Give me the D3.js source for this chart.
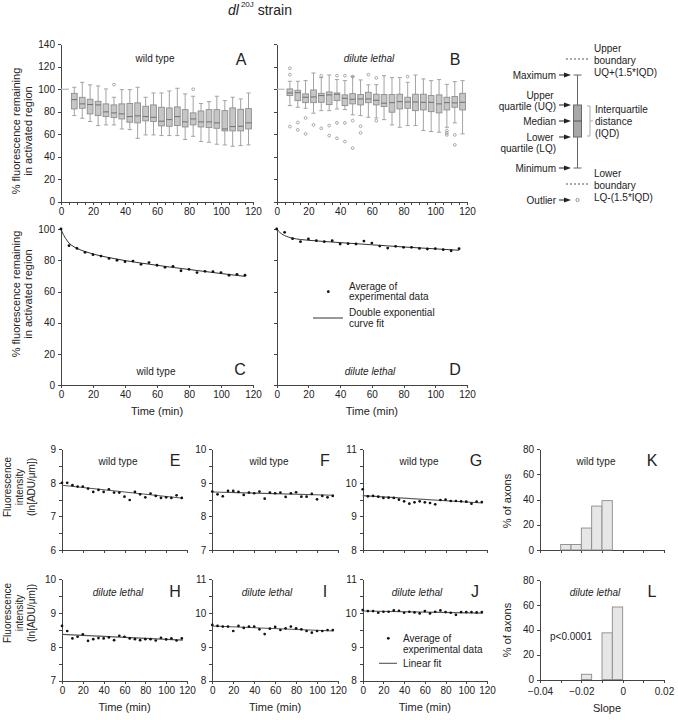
<!DOCTYPE html>
<html><head><meta charset="utf-8">
<script src="https://cdn.jsdelivr.net/npm/d3@7"></script>
<style>
body{margin:0;background:#fff;}
svg{font-family:"Liberation Sans",Arial,Helvetica,sans-serif;}
.axis path,.axis line{stroke:#444;stroke-width:1;shape-rendering:crispEdges;}
.axis text{font-size:10px;fill:#222;font-family:"Liberation Sans",Arial,sans-serif;}
</style></head><body>
<script>
// ---------------- DATA ----------------
const boxTimes = [8.3,13.3,18.2,23.2,28.1,33.1,38.0,43.0,47.9,52.9,57.8,62.8,67.7,72.7,77.6,82.6,87.5,92.5,97.4,102.4,107.3,112.3,117.2];
// Panel A (wild type) box statistics
const aMax = [101.8,106.2,103.9,103.0,100.3,92.9,99.7,99.7,101.8,92.9,96.7,96.7,98.5,100.9,95.9,93.8,87.3,89.0,93.8,89.9,92.9,91.4,96.7];
const aUQ  = [96.4,92.8,91.1,89.3,87.0,86.1,87.0,87.3,87.9,84.9,86.1,84.0,83.4,84.3,81.9,79.0,80.7,81.9,81.9,81.0,83.4,82.2,82.8];
const aMed = [90.8,87.0,86.4,86.1,79.9,79.0,78.1,75.7,76.3,75.7,75.1,71.6,73.0,75.7,71.0,73.6,71.0,71.0,70.1,64.7,66.8,67.1,70.1];
const aLQ  = [82.5,83.1,78.1,76.6,75.7,74.8,73.6,70.7,70.1,71.9,71.3,67.4,67.1,67.7,66.5,68.3,66.5,65.9,65.3,63.0,63.0,63.0,64.7];
const aMin = [76.6,74.2,71.3,67.7,68.3,68.3,64.7,64.1,56.4,59.4,59.4,58.8,58.8,58.8,55.3,58.2,53.5,52.9,51.1,50.5,49.3,49.9,50.5];
const aOutIdx = [5,15];
const aOutVal = [104.2,100.0];
// Panel B (dilute lethal) box statistics
const bMax = [107.1,107.1,107.7,114.5,110.4,112.7,108.6,107.7,111.6,108.3,103.9,104.1,112.1,110.4,110.4,106.2,112.7,109.2,107.7,108.6,104.4,106.8,107.7];
const bUQ  = [100.3,99.1,95.9,99.4,96.4,97.6,96.7,95.0,96.1,95.3,97.3,95.6,95.3,95.3,95.6,92.9,95.6,95.6,94.4,95.0,92.9,93.5,96.4];
const bMed = [96.7,97.0,92.9,93.2,94.4,95.0,95.6,92.0,91.1,91.4,91.4,90.2,87.6,88.1,89.0,88.7,88.7,88.4,88.4,87.0,88.1,87.9,88.4];
const bLQ  = [94.4,89.9,88.1,88.1,88.4,86.4,89.9,85.5,87.0,86.1,88.1,86.1,84.6,79.6,82.5,83.1,81.0,81.6,80.1,79.0,81.6,84.0,81.6];
const bMin = [85.5,84.0,83.1,78.7,81.0,81.0,82.5,81.9,77.2,76.6,75.1,74.5,73.0,68.3,66.2,67.7,67.7,63.3,62.4,61.8,66.2,70.1,60.3];
const bOutIdx = [0,0,0,1,1,2,2,3,4,4,5,5,6,6,6,7,7,7,8,8,8,9,9,10,11,11,15,20,20,20,21,21];
const bOutVal = [118.7,113.0,66.8,70.4,63.9,74.5,60.3,68.3,112.1,65.3,67.7,58.8,112.1,70.1,56.4,112.1,70.1,53.5,111.3,72.1,47.6,67.1,61.2,113.0,110.1,72.0,111.3,63.3,61.2,59.4,59.4,50.5];
const refLineT = [0,5];

// Panels C,D: averages and double exponential fits
const times = [0,5,10,15,20,25,30,35,40,45,50,55,60,65,70,75,80,85,90,95,100,105,110,115];
const cVals = [100,89.3,87.6,85.1,83.6,82.7,81.2,80.0,79.1,79.5,77.4,78.5,76.8,75.5,76.1,73.3,74.2,72.1,72.9,72.7,72.1,70.4,71.0,70.4];
const dVals = [100,97.9,93.8,91.9,93.6,92.5,91.9,92.5,90.4,90.6,90.4,92.3,91.0,89.1,87.8,88.9,88.3,88.3,87.6,87.2,87.4,86.8,86.1,87.4];
const fitT  = [0,1,2,3,5,7.5,10,15,20,30,40,50,60,70,80,90,100,110,115];
const cFit  = [100,97.5,95.5,93.8,91.0,89.0,87.6,85.6,84.0,81.7,79.8,78.2,76.8,75.4,74.1,72.8,71.5,70.3,69.7];
const dFit  = [100,98.8,97.8,97.0,95.8,94.8,94.1,93.3,92.8,92.0,91.3,90.6,89.9,89.2,88.5,87.9,87.3,86.7,86.4];

// Panels E-J: fluorescence intensity, ln[ADU/um]
const eVals = [8.00,8.00,7.93,7.89,7.89,7.83,7.73,7.79,7.73,7.81,7.71,7.71,7.59,7.49,7.73,7.66,7.57,7.68,7.61,7.55,7.57,7.55,7.63,7.55];
const fVals = [8.74,8.66,8.60,8.76,8.76,8.73,8.64,8.71,8.69,8.74,8.53,8.71,8.69,8.71,8.58,8.69,8.72,8.59,8.59,8.67,8.51,8.61,8.57,8.61];
const gVals = [9.81,9.60,9.61,9.59,9.55,9.56,9.55,9.50,9.45,9.38,9.42,9.45,9.42,9.40,9.36,9.49,9.50,9.46,9.46,9.45,9.44,9.38,9.44,9.43];
const hVals = [8.62,8.47,8.25,8.30,8.37,8.18,8.23,8.26,8.25,8.28,8.20,8.33,8.30,8.25,8.23,8.20,8.23,8.23,8.19,8.27,8.22,8.25,8.19,8.25];
const iVals = [9.65,9.62,9.60,9.60,9.47,9.62,9.56,9.60,9.60,9.52,9.38,9.54,9.59,9.50,9.55,9.60,9.55,9.52,9.47,9.42,9.47,9.47,9.50,9.50];
const jVals = [10.09,10.06,10.06,10.01,10.04,10.04,10.08,10.07,10.01,10.04,10.02,9.99,10.06,9.99,10.04,10.08,10.03,10.01,9.95,10.03,10.03,10.03,10.02,10.03];
const linT = [0,116];
const eFit = [7.93,7.54];
const fFit = [8.73,8.63];
const gFit = [9.62,9.40];
const hFit = [8.37,8.20];
const iFit = [9.62,9.47];
const jFit = [10.06,10.00];

// Panels K,L: slope histograms (% of axons)
const binStart = [-0.03,-0.025,-0.02,-0.015,-0.01,-0.005];
const binWidth = 0.005;
const kPct = [4.35,4.35,17.4,34.8,39.1,0];
const lPct = [0,0,4.2,0,37.5,58.3];

// tick values
const timeTicks = [0,20,40,60,80,100,120];
const timeTicksMinor = d3.range(0,121,5);
const slopeTicks = [-0.04,-0.03,-0.02,-0.01,0,0.01,0.02];

// ---------------- DRAW ----------------
const svg = d3.select("body").append("svg").attr("width",678).attr("height",720);

function styleAxis(g){ g.attr("class","axis"); }
function txt(x,y,s,o={}){
  const t = svg.append("text").attr("x",x).attr("y",y).text(s)
    .attr("font-size",o.size||10).attr("fill",o.fill||"#222")
    .attr("text-anchor",o.anchor||"start");
  if(o.italic) t.attr("font-style","italic");
  return t;
}
function vtxt(x,y,s,size){
  return svg.append("text").attr("transform",`translate(${x},${y}) rotate(-90)`)
    .attr("text-anchor","middle").attr("font-size",size||11).attr("fill","#222").text(s);
}

function drawAxes(x,y,o){
  const xa = d3.axisBottom(x).tickSize(3).tickSizeOuter(0).tickPadding(o.xPad||3)
    .tickValues(o.xTicks).tickFormat(o.xFmt);
  svg.append("g").call(styleAxis).attr("transform",`translate(0,${y.range()[0]})`).call(xa);
  const ya = d3.axisLeft(y).tickSize(3).tickSizeOuter(0).tickPadding(3)
    .tickValues(o.yTicks).tickFormat(o.yFmt);
  svg.append("g").call(styleAxis).attr("transform",`translate(${x.range()[0]},0)`).call(ya);
}

// ---- Title
const title = svg.append("text").attr("x",228).attr("y",15).attr("font-size",14).attr("fill","#222");
title.append("tspan").attr("font-style","italic").text("dl");
title.append("tspan").attr("dy",-8).attr("dx",2).attr("font-size",8).text("20J");
title.append("tspan").attr("dy",8).text(" strain");

// ---- Box plot panels A, B
function boxPanel(x0,x1,mx,uq,md,lq,mn,oIdx,oVal,showY){
  const x = d3.scaleLinear().domain([0,120]).range([x0,x1]);
  const y = d3.scaleLinear().domain([0,140]).range([201.7,44.3]);
  drawAxes(x,y,{xTicks:timeTicksMinor, xFmt:d=>d%20===0?d:"",
    yTicks:d3.range(0,141,20), yFmt:d=>showY?d:""});
  svg.append("line").attr("x1",x(refLineT[0])).attr("x2",x(refLineT[1]))
    .attr("y1",y(100)).attr("y2",y(100)).attr("stroke","#bbb").attr("stroke-width",1.2);
  const hw = 1.8, cw = 1.3;
  const g = svg.append("g");
  boxTimes.forEach((t,i)=>{
    g.append("line").attr("x1",x(t)).attr("x2",x(t)).attr("y1",y(mx[i])).attr("y2",y(mn[i]))
      .attr("stroke","#a3a3a3").attr("stroke-width",1);
    [mx[i],mn[i]].forEach(v=>g.append("line").attr("x1",x(t-cw)).attr("x2",x(t+cw))
      .attr("y1",y(v)).attr("y2",y(v)).attr("stroke","#a3a3a3"));
    g.append("rect").attr("x",x(t-hw)).attr("width",x(t+hw)-x(t-hw))
      .attr("y",y(uq[i])).attr("height",y(lq[i])-y(uq[i]))
      .attr("fill","#c6c6c6").attr("stroke","#8e8e8e").attr("stroke-width",0.9);
    g.append("line").attr("x1",x(t-hw)).attr("x2",x(t+hw)).attr("y1",y(md[i])).attr("y2",y(md[i]))
      .attr("stroke","#6f6f6f").attr("stroke-width",1);
  });
  oIdx.forEach((k,j)=>{
    g.append("circle").attr("cx",x(boxTimes[k])).attr("cy",y(oVal[j])).attr("r",1.4)
      .attr("fill","none").attr("stroke","#8a8a8a").attr("stroke-width",0.7);
  });
}
boxPanel(61,253,aMax,aUQ,aMed,aLQ,aMin,aOutIdx,aOutVal,true);
boxPanel(276.7,467,bMax,bUQ,bMed,bLQ,bMin,bOutIdx,bOutVal,false);
txt(155,62,"wild type",{anchor:"middle"});
txt(241,65,"A",{size:16,anchor:"middle"});
txt(369,62,"dilute lethal",{anchor:"middle",italic:true});
txt(455,65,"B",{size:16,anchor:"middle"});
vtxt(20,131,"% fluorescence remaining");
vtxt(32,131,"in activated region");

// ---- Box legend schematic
(function(){
  const g = svg.append("g");
  const cx = 577.5;
  g.append("line").attr("x1",cx).attr("x2",cx).attr("y1",75).attr("y2",168).attr("stroke","#666");
  [75,168].forEach(v=>g.append("line").attr("x1",cx-4).attr("x2",cx+4).attr("y1",v).attr("y2",v).attr("stroke","#666"));
  g.append("rect").attr("x",cx-4).attr("y",105).attr("width",8).attr("height",32)
    .attr("fill","#a8a8a8").attr("stroke","#6a6a6a");
  g.append("line").attr("x1",cx-4).attr("x2",cx+4).attr("y1",121).attr("y2",121).attr("stroke","#555");
  g.append("circle").attr("cx",cx).attr("cy",200).attr("r",1.6).attr("fill","none").attr("stroke","#777").attr("stroke-width",0.8);
  const arrow = yy => {
    g.append("line").attr("x1",559).attr("x2",566).attr("y1",yy).attr("y2",yy).attr("stroke","#222");
    g.append("path").attr("d",`M571,${yy} L564,${yy-2.6} L564,${yy+2.6} Z`).attr("fill","#222");
  };
  [75,105,121,137,168,200].forEach(arrow);
  txt(556,78.5,"Maximum",{anchor:"end"});
  txt(540,98.5,"Upper",{anchor:"middle"});
  txt(556,109.5,"quartile (UQ)",{anchor:"end"});
  txt(556,124.5,"Median",{anchor:"end"});
  txt(540,140.5,"Lower",{anchor:"middle"});
  txt(556,151.5,"quartile (LQ)",{anchor:"end"});
  txt(556,171.5,"Minimum",{anchor:"end"});
  txt(556,203.5,"Outlier",{anchor:"end"});
  [59,184].forEach(v=>g.append("line").attr("x1",566).attr("x2",590).attr("y1",v).attr("y2",v)
    .attr("stroke","#555").attr("stroke-dasharray","2,2"));
  g.append("path").attr("d","M587,106 L590,106 L590,136 L587,136").attr("fill","none").attr("stroke","#aaa");
  g.append("line").attr("x1",590).attr("x2",593).attr("y1",121).attr("y2",121).attr("stroke","#aaa");
  txt(594,51.5,"Upper"); txt(594,63.5,"boundary"); txt(594,75.5,"UQ+(1.5*IQD)");
  txt(595,112.5,"Interquartile"); txt(595,124.5,"distance"); txt(595,136.5,"(IQD)");
  txt(594,176.5,"Lower"); txt(594,188.5,"boundary"); txt(594,200.5,"LQ-(1.5*IQD)");
})();

// ---- Panels C, D
function expPanel(x0,x1,vals,fit,showY){
  const x = d3.scaleLinear().domain([0,120]).range([x0,x1]);
  const y = d3.scaleLinear().domain([0,100]).range([385.3,229]);
  drawAxes(x,y,{xTicks:timeTicks, xFmt:d=>d, yTicks:d3.range(0,101,20), yFmt:d=>showY?d:""});
  svg.append("path").datum(fitT.map((t,i)=>[t,fit[i]]))
    .attr("d",d3.line().x(d=>x(d[0])).y(d=>y(d[1])).curve(d3.curveMonotoneX))
    .attr("fill","none").attr("stroke","#333").attr("stroke-width",1);
  svg.append("g").selectAll("circle").data(times).join("circle")
    .attr("cx",d=>x(d)).attr("cy",(d,i)=>y(vals[i])).attr("r",1.4).attr("fill","#111");
  txt(x(60),415,"Time (min)",{size:11,anchor:"middle"});
}
expPanel(61,253,cVals,cFit,true);
expPanel(276.7,467,dVals,dFit,false);
vtxt(20,294,"% fluorescence remaining");
vtxt(32,294,"in activated region");
txt(156,375,"wild type",{anchor:"middle"});
txt(240,375,"C",{size:16,anchor:"middle"});
txt(370,375,"dilute lethal",{anchor:"middle",italic:true});
txt(455,375,"D",{size:16,anchor:"middle"});
svg.append("circle").attr("cx",328.3).attr("cy",291.7).attr("r",1.4).attr("fill","#111");
txt(349,289.5,"Average of"); txt(349,300,"experimental data");
svg.append("line").attr("x1",313).attr("x2",343).attr("y1",318).attr("y2",318).attr("stroke","#333");
txt(349,316,"Double exponential"); txt(349,327,"curve fit");

// ---- Panels E-J
function linPanel(x0,x1,yTop,yBot,ymin,vals,fit,showX){
  const x = d3.scaleLinear().domain([0,120]).range([x0,x1]);
  const y = d3.scaleLinear().domain([ymin,ymin+3]).range([yBot,yTop]);
  drawAxes(x,y,{xTicks:timeTicks, xFmt:d=>showX?d:"", yTicks:d3.range(ymin,ymin+3.01,0.5), yFmt:d=>Number.isInteger(d)?d:""});
  svg.append("line").attr("x1",x(linT[0])).attr("x2",x(linT[1])).attr("y1",y(fit[0])).attr("y2",y(fit[1]))
    .attr("stroke","#555").attr("stroke-width",1.1);
  svg.append("g").selectAll("circle").data(times).join("circle")
    .attr("cx",d=>x(d)).attr("cy",(d,i)=>y(vals[i])).attr("r",1.35).attr("fill","#111");
  if(showX) txt(x(60),711,"Time (min)",{size:11,anchor:"middle"});
}
linPanel(62,187,449.3,550,6,eVals,eFit,false);
linPanel(212.3,338,449.3,550,7,fVals,fFit,false);
linPanel(362.7,487,449.3,550,8,gVals,gFit,false);
linPanel(62,187,579.3,680.7,7,hVals,hFit,true);
linPanel(212.3,338,579.3,680.7,8,iVals,iFit,true);
linPanel(362.7,487,579.3,680.7,8,jVals,jFit,true);
[[487,"E"],[613,"H"]].forEach(([cy])=>{
  vtxt(11,cy,"Fluorescence",10);
  vtxt(23,cy,"intensity",10);
  vtxt(35,cy,"(ln[ADU/\u03BCm])",10);
});
txt(118,465,"wild type",{anchor:"middle"}); txt(175,466,"E",{size:16,anchor:"middle"});
txt(269,465,"wild type",{anchor:"middle"}); txt(325,466,"F",{size:16,anchor:"middle"});
txt(419,465,"wild type",{anchor:"middle"}); txt(476,466,"G",{size:16,anchor:"middle"});
txt(118,596,"dilute lethal",{anchor:"middle",italic:true}); txt(175,597,"H",{size:16,anchor:"middle"});
txt(267,596,"dilute lethal",{anchor:"middle",italic:true}); txt(325,597,"I",{size:16,anchor:"middle"});
txt(417,596,"dilute lethal",{anchor:"middle",italic:true}); txt(475,597,"J",{size:16,anchor:"middle"});
svg.append("circle").attr("cx",388.3).attr("cy",638.3).attr("r",1.4).attr("fill","#111");
txt(403,641.5,"Average of"); txt(403,653,"experimental data");
svg.append("line").attr("x1",379).attr("x2",397).attr("y1",663.3).attr("y2",663.3).attr("stroke","#555").attr("stroke-width",1.1);
txt(403,666.5,"Linear fit");

// ---- Panels K, L
function histPanel(yTop,yBot,pct,showX){
  const x = d3.scaleLinear().domain([-0.04,0.02]).range([540,664]);
  const y = d3.scaleLinear().domain([0,80]).range([yBot,yTop]);
  drawAxes(x,y,{xPad:5, xTicks:slopeTicks, xFmt:d=>showX && Math.abs(Math.round(d*100))%2===0 ? (d===0?"0":d3.format(".2f")(d)) : "",
    yTicks:d3.range(0,81,20), yFmt:d=>d});
  svg.append("g").selectAll("rect").data(binStart.filter((b,i)=>pct[i]>0)).join("rect")
    .attr("x",d=>x(d)).attr("width",d=>x(d+binWidth)-x(d))
    .attr("y",d=>y(pct[binStart.indexOf(d)])).attr("height",d=>y(0)-y(pct[binStart.indexOf(d)]))
    .attr("fill","#e6e6e6").attr("stroke","#8a8a8a").attr("stroke-width",0.9);
}
histPanel(449,550,kPct,false);
histPanel(580,679.5,lPct,true);
vtxt(511,501,"% of axons");
vtxt(511,630,"% of axons");
txt(596,465,"wild type",{anchor:"middle"}); txt(652,466,"K",{size:16,anchor:"middle"});
txt(595,596,"dilute lethal",{anchor:"middle",italic:true}); txt(652,597,"L",{size:16,anchor:"middle"});
txt(550,640,"p<0.0001");
txt(607,712,"Slope",{size:11,anchor:"middle"});
</script>
</body></html>
